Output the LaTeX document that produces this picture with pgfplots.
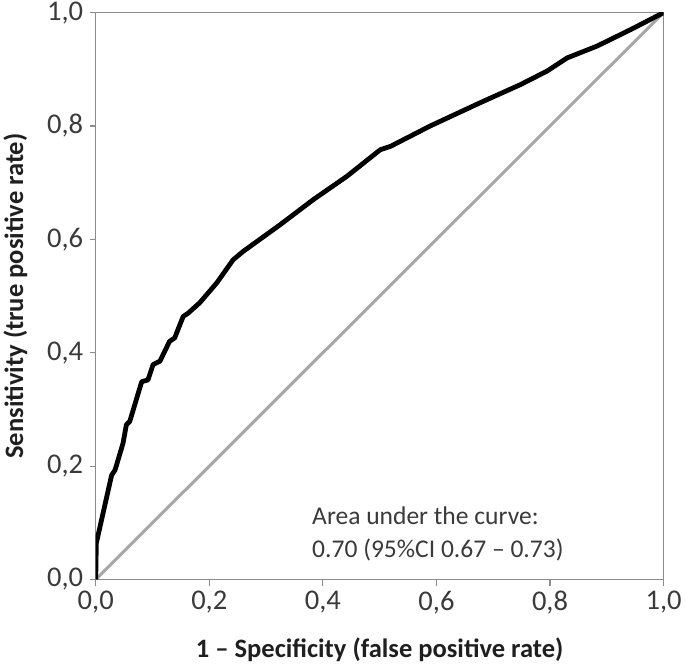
\documentclass[border=0pt]{standalone}
\usepackage{fontspec}
\setmainfont{Carlito}
\usepackage{pgfplots}
\pgfplotsset{compat=1.18}
\definecolor{axgray}{HTML}{8C8C8C}
\definecolor{diaggray}{HTML}{A6A6A6}
\definecolor{txtgray}{HTML}{3A3A3A}
\begin{document}
\begin{tikzpicture}
\begin{axis}[
  scale only axis,
  width=567pt, height=566pt,
  xmin=0, xmax=1, ymin=0, ymax=1,
  xtick={0,0.2,...,1.0}, ytick={0,0.2,...,1.0},
  tick align=outside, major tick length=6pt,
  xtick pos=bottom, ytick pos=left,
  axis line style={axgray, line width=1.2pt},
  tick style={axgray, line width=1.2pt},
  tick label style={font=\fontsize{28.5}{32}\selectfont, text=txtgray},
  xticklabel style={yshift=-2pt},
  yticklabel style={xshift=-3pt, inner ysep=1.5pt},
  /pgf/number format/.cd, assume math mode=true, use comma, fixed, fixed zerofill, precision=1,
  /pgfplots/.cd,
  xlabel={\textbf{1 – Specificity (false positive rate)}},
  ylabel={\textbf{Sensitivity (true positive rate)}},
  label style={font=\fontsize{26.5}{30}\selectfont, text=black!88},
  xlabel style={yshift=-17pt},
  ylabel style={yshift=13pt},
]
\addplot[diaggray, line width=3pt] coordinates {(0,0) (1,1)};
\addplot[black, line width=4.8pt, line join=round] coordinates {
(0,0) (0.001,0.064) (0.028,0.184) (0.034,0.193) (0.048,0.240) (0.054,0.273)
(0.060,0.279) (0.081,0.349) (0.092,0.352) (0.101,0.379) (0.113,0.385)
(0.130,0.420) (0.139,0.426) (0.154,0.464) (0.163,0.470) (0.183,0.488)
(0.213,0.523) (0.242,0.564) (0.260,0.579) (0.325,0.626) (0.383,0.670)
(0.442,0.711) (0.501,0.758) (0.519,0.764) (0.589,0.800) (0.677,0.841)
(0.748,0.873) (0.795,0.897) (0.830,0.920) (0.883,0.941) (0.942,0.970) (1,1)
};
\node[anchor=west, align=left, text=txtgray, font=\fontsize{25.5}{33}\selectfont]
  at (axis cs:0.375,0.08) {Area under the curve:\\0.70 (95\%CI 0.67 – 0.73)};
\end{axis}
\end{tikzpicture}
\end{document}
